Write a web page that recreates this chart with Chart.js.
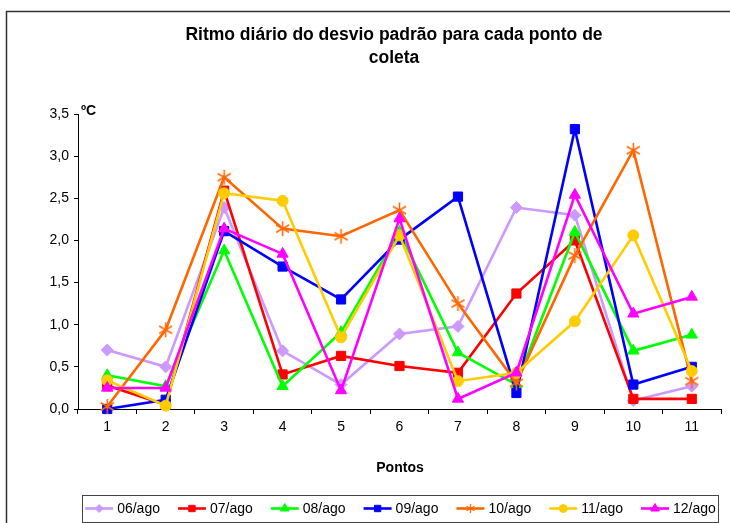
<!DOCTYPE html>
<html><head><meta charset="utf-8">
<script src="https://cdn.jsdelivr.net/npm/chart.js@4.4.0/dist/chart.umd.min.js"></script>
<style>html,body{margin:0;padding:0;background:#fff;overflow:hidden}canvas{display:block}</style>
</head><body>
<canvas id="c" width="730" height="523"></canvas>
<script>
const categories = ['1','2','3','4','5','6','7','8','9','10','11'];
const seriesLabels = ['06/ago','07/ago','08/ago','09/ago','10/ago','11/ago','12/ago'];
const s06 = [0.70,0.50,2.39,0.69,0.29,0.89,0.98,2.39,2.30,0.10,0.27];
const s07 = [0.28,0.05,2.59,0.41,0.63,0.51,0.43,1.37,2.00,0.12,0.12];
const s08 = [0.40,0.27,1.88,0.27,0.91,2.10,0.67,0.29,2.10,0.69,0.88];
const s09 = [0.00,0.11,2.11,1.69,1.30,2.01,2.52,0.19,3.32,0.29,0.50];
const s10 = [0.03,0.94,2.75,2.14,2.05,2.36,1.25,0.31,1.82,3.07,0.33];
const s11 = [0.34,0.04,2.56,2.47,0.85,2.06,0.33,0.43,1.04,2.06,0.45];
const s12 = [0.25,0.25,2.14,1.84,0.22,2.26,0.12,0.43,2.54,1.13,1.33];
const yMin = 0, yMax = 3.5, yStep = 0.5;
const titleLines = ['Ritmo diário do desvio padrão para cada ponto de', 'coleta'];
const yTitle = 'ºC';
const xTitle = 'Pontos';

const colors = ['#CC99FF','#FF0000','#00FF00','#0000FF','#FF6600','#FFCC00','#FF00FF'];

function makeStar(size, color, lw) {
  const c = document.createElement('canvas');
  c.width = size; c.height = size;
  const g = c.getContext('2d');
  g.strokeStyle = color; g.lineWidth = lw; g.lineCap = 'butt';
  const m = size / 2, r = size / 2 - 1;
  g.beginPath();
  g.moveTo(m - r * 0.87, m - r * 0.5); g.lineTo(m + r * 0.87, m + r * 0.5);
  g.moveTo(m - r * 0.87, m + r * 0.5); g.lineTo(m + r * 0.87, m - r * 0.5);
  g.moveTo(m, m - r); g.lineTo(m, m + r);
  g.stroke();
  return c;
}
const starBig = makeStar(17, '#FF6600', 1.5);
const starSmall = makeStar(11, '#FF6600', 1.3);

const styles = [
  {ps:'rectRot', r:6, lr:4},
  {ps:'rect', r:6.5, lr:4.5},
  {ps:'triangle', r:6.5, lr:5},
  {ps:'rect', r:6.5, lr:4.5},
  {ps:starBig, r:8, lr:5, legendImg: starSmall},
  {ps:'circle', r:5.5, lr:4},
  {ps:'triangle', r:6.5, lr:5}
];
const seriesData = [s06, s07, s08, s09, s10, s11, s12];

const datasets = seriesData.map((d, i) => ({
  label: seriesLabels[i],
  data: d,
  borderColor: colors[i],
  backgroundColor: colors[i],
  pointBackgroundColor: colors[i],
  pointBorderColor: colors[i],
  pointBorderWidth: 1,
  pointStyle: styles[i].ps,
  pointRadius: styles[i].r,
  borderWidth: 2.6,
  tension: 0,
  fill: false,
  clip: false,
  order: 7 - i
}));

const fam = '"Liberation Sans", Arial, sans-serif';

const decor = {
  id: 'decor',
  afterDraw(chart) {
    const ctx = chart.ctx;
    ctx.save();
    // outer frame
    ctx.strokeStyle = '#333';
    ctx.lineWidth = 1.5;
    ctx.beginPath();
    ctx.moveTo(6.5, 530); ctx.lineTo(6.5, 11.5); ctx.lineTo(735, 11.5);
    ctx.stroke();
    // title
    ctx.fillStyle = '#000';
    ctx.textAlign = 'center';
    ctx.textBaseline = 'middle';
    ctx.font = 'bold 17.5px ' + fam;
    ctx.fillText(titleLines[0], 394, 35);
    ctx.fillText(titleLines[1], 394, 58);
    ctx.font = 'bold 14px ' + fam;
    ctx.textAlign = 'left';
    ctx.fillText(yTitle, 81, 111);
    ctx.textAlign = 'center';
    ctx.fillText(xTitle, 400, 468);
    // legend
    const boxL = 82.5, boxR = 718.5, boxT = 495.5, boxB = 522.5;
    ctx.lineWidth = 1;
    ctx.strokeStyle = '#444';
    ctx.strokeRect(boxL, boxT, boxR - boxL, boxB - boxT);
    ctx.font = '14px ' + fam;
    const lineLen = 28, gap1 = 4, gap2 = 18;
    const items = chart.data.datasets.map(ds => ({ds, w: ctx.measureText(ds.label).width}));
    let total = 0;
    items.forEach((it, k) => { total += lineLen + gap1 + it.w + (k < items.length - 1 ? gap2 : 0); });
    let x = (boxL + boxR) / 2 - total / 2;
    const y = 508.5;
    items.forEach((it, k) => {
      const ds = it.ds, idx = seriesLabels.indexOf(ds.label);
      ctx.strokeStyle = ds.borderColor;
      ctx.lineWidth = 2.6;
      ctx.beginPath(); ctx.moveTo(x, y); ctx.lineTo(x + lineLen, y); ctx.stroke();
      const st = styles[idx];
      if (st.legendImg) {
        ctx.drawImage(st.legendImg, x + lineLen / 2 - st.legendImg.width / 2, y - st.legendImg.height / 2);
      } else {
        ctx.fillStyle = ds.borderColor;
        ctx.strokeStyle = ds.borderColor;
        ctx.lineWidth = 1;
        Chart.helpers.drawPoint(ctx, {pointStyle: st.ps, radius: st.lr, rotation: 0, borderWidth: 1}, x + lineLen / 2, y);
      }
      ctx.fillStyle = '#000';
      ctx.textAlign = 'left';
      ctx.textBaseline = 'middle';
      ctx.fillText(ds.label, x + lineLen + gap1, y + 1);
      x += lineLen + gap1 + it.w + gap2;
    });
    ctx.restore();
  }
};

new Chart(document.getElementById('c'), {
  type: 'line',
  data: { labels: categories, datasets },
  options: {
    responsive: false,
    animation: false,
    devicePixelRatio: 1,
    layout: { padding: { left: 0, right: 6, top: 114, bottom: 0 } },
    plugins: { legend: { display: false }, title: { display: false }, tooltip: { enabled: false } },
    scales: {
      x: {
        type: 'category',
        offset: true,
        grid: { display: true, offset: true, drawOnChartArea: false, drawTicks: true, tickLength: 5, color: '#000', lineWidth: 1 },
        border: { display: true, color: '#000', width: 1 },
        ticks: { color: '#000', font: { family: fam, size: 14 }, padding: 5, maxRotation: 0, autoSkip: false },
        afterFit: s => { s.height = 114; }
      },
      y: {
        min: yMin, max: yMax,
        grid: { display: true, drawOnChartArea: false, drawTicks: true, tickLength: 4, color: '#000', lineWidth: 1 },
        border: { display: true, color: '#000', width: 1 },
        ticks: { stepSize: yStep, color: '#000', font: { family: fam, size: 14 }, padding: 5,
          callback: v => v.toFixed(1).replace('.', ',') },
        afterFit: s => { s.width = 78; }
      }
    }
  },
  plugins: [decor]
});
</script>
</body></html>
